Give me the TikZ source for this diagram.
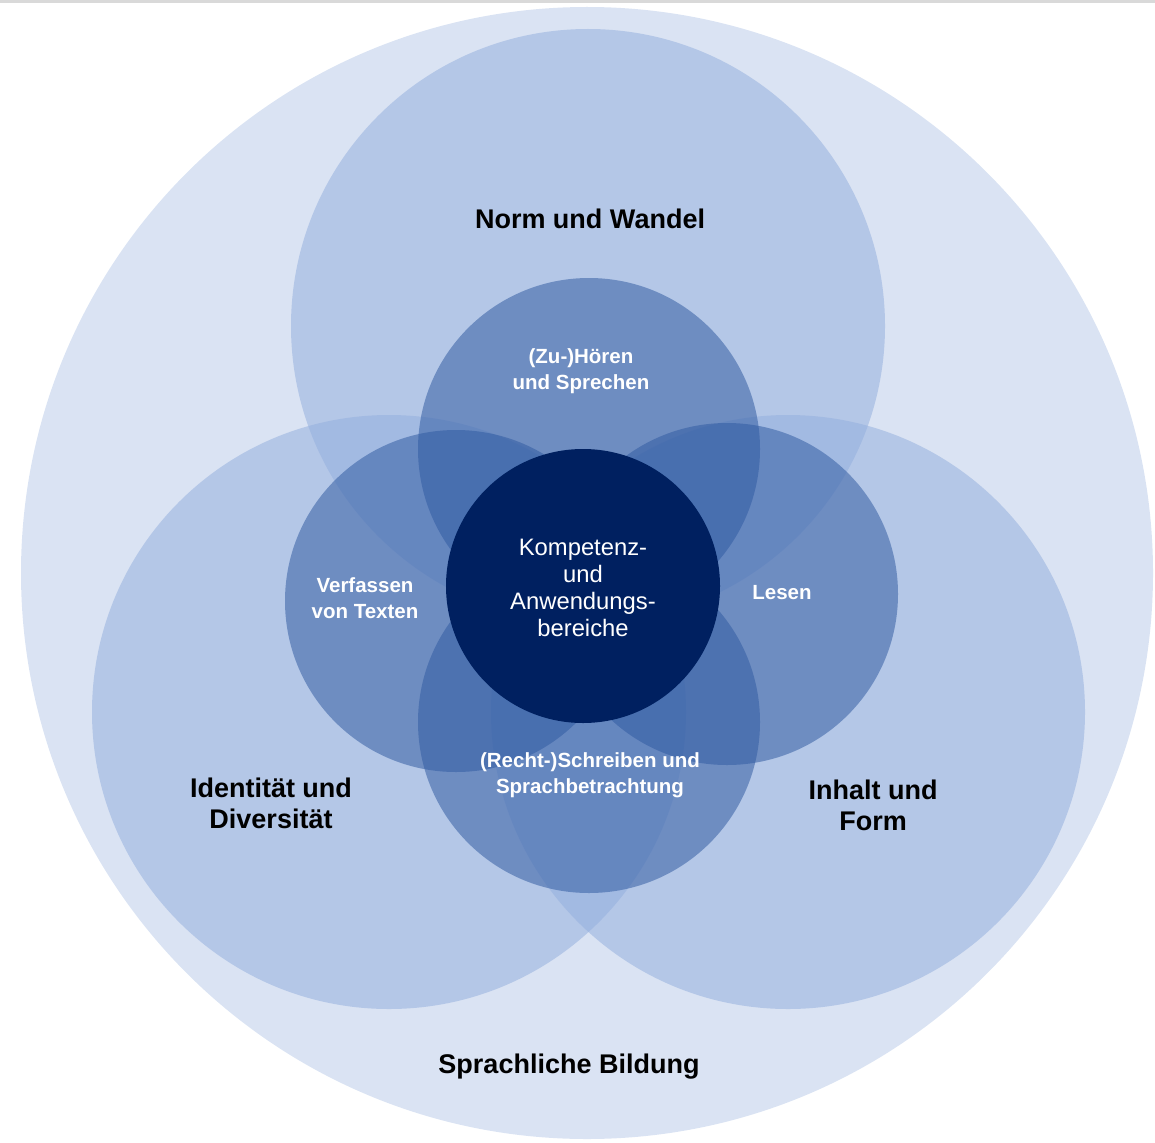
\documentclass[tikz,border=0pt]{standalone}
\usepackage{fontspec}
\setmainfont{Liberation Sans}
\definecolor{outerc}{RGB}{218,227,243}
\definecolor{bigc}{RGB}{149,176,222}
\definecolor{midc}{RGB}{48,90,161}
\definecolor{corec}{RGB}{0,32,96}
\definecolor{rulec}{RGB}{217,217,217}
\begin{document}
\begin{tikzpicture}[x=1pt,y=-1pt,
  disc/.style={circle, inner sep=0pt, minimum size=#1},
  outerdisc/.style={disc=1132pt, fill=outerc},
  bigdisc/.style={disc=594pt, fill=bigc, fill opacity=0.55},
  middisc/.style={disc=342pt, fill=midc, fill opacity=0.53},
  coredisc/.style={disc=274pt, fill=corec},
  biglabel/.style={font=\bfseries\fontsize{27}{31}\selectfont, align=center, text=black, inner sep=0pt},
  midlabel/.style={font=\bfseries\fontsize{20.5}{26}\selectfont, align=center, text=white, inner sep=0pt},
  corelabel/.style={font=\fontsize{23.8}{27}\selectfont, align=center, text=white, inner sep=0pt}]
\useasboundingbox (0,0) rectangle (1155,1142);
\fill[rulec] (0,0) rectangle (1155,3);
% outer circle
\node[outerdisc] (outer) at (587,573) {};
% large circles
\node[bigdisc] (norm) at (588,326) {};
\node[bigdisc] (ident) at (389,712) {};
\node[bigdisc] (inhalt) at (788,712) {};
% medium circles
\node[middisc] (hoeren) at (589,449) {};
\node[middisc] (verfassen) at (456,601) {};
\node[middisc] (lesen) at (727,594) {};
\node[middisc] (schreiben) at (589,722) {};
% core
\node[coredisc] (core) at (583,586) {};
% labels
\node[biglabel] (tnorm) at (590,219) {Norm und Wandel};
\node[biglabel] (tident) at (271,803) {Identität und\\Diversität};
\node[biglabel] (tinhalt) at (873,805) {Inhalt und\\Form};
\node[biglabel] (tsprach) at (569,1067) {Sprachliche Bildung};
\node[midlabel] (thoeren) at (581,371) {(Zu-)Hören\\und Sprechen};
\node[midlabel] (tverf) at (365,598) {Verfassen\\von Texten};
\node[midlabel] (tlesen) at (782,593) {Lesen};
\node[midlabel] (tschreib) at (590,775) {(Recht-)Schreiben und\\Sprachbetrachtung};
\node[corelabel] (tcore) at (583,588) {Kompetenz-\\und\\Anwendungs-\\bereiche};
\end{tikzpicture}
\end{document}
